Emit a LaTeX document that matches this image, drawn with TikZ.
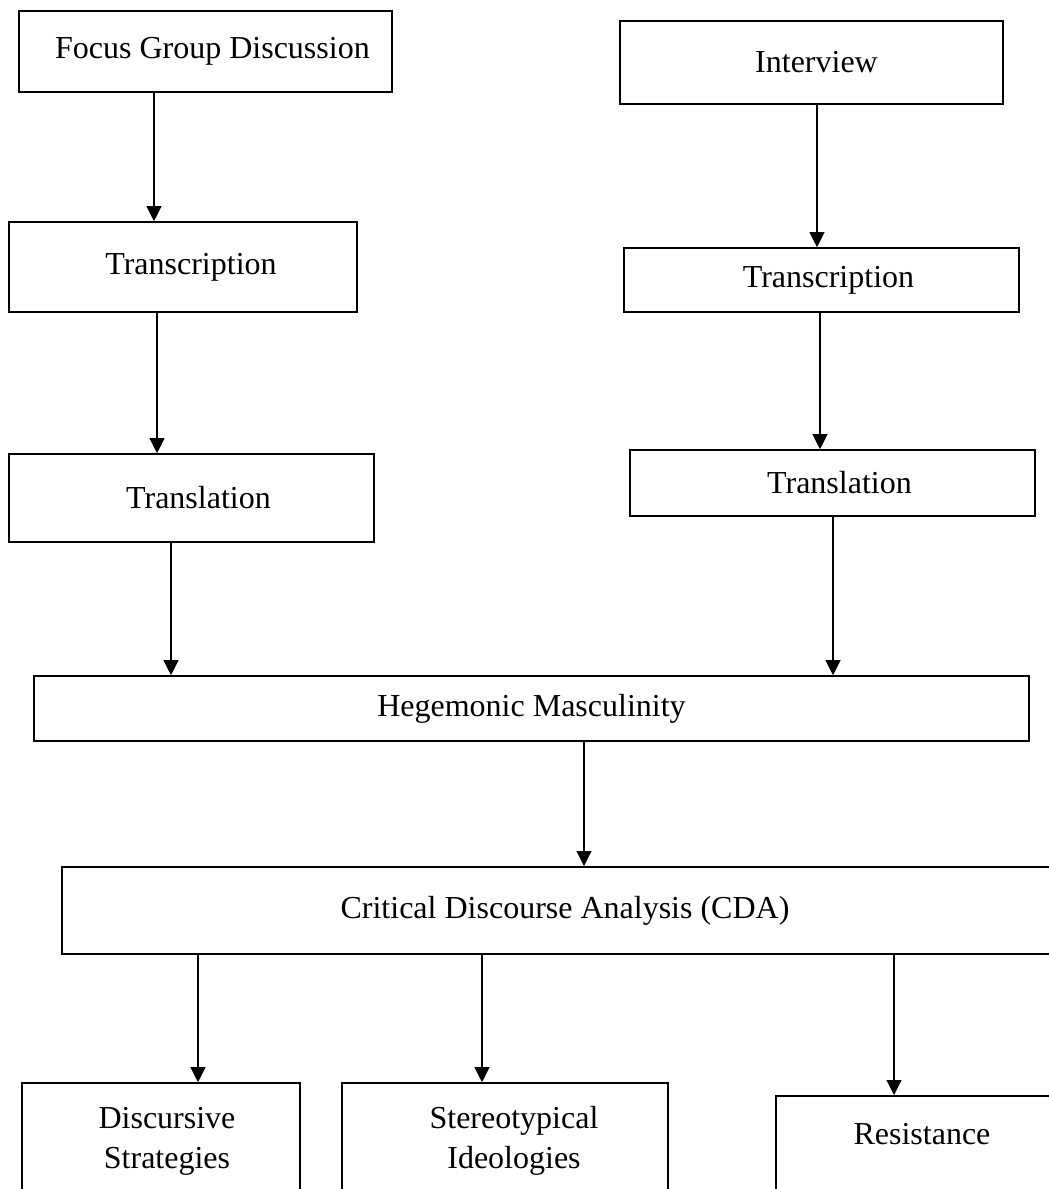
\documentclass[tikz,border=0pt]{standalone}
\usepackage{fontspec}
\setmainfont{Liberation Serif}
\usetikzlibrary{arrows.meta}

\begin{document}
\begin{tikzpicture}[x=1pt,y=-1pt,
    box/.style={draw, line width=1.6pt, inner sep=0pt, align=center,
        font=\fontsize{32}{40}\selectfont},
    arr/.style={line width=1.1pt, -{Triangle[length=15pt,width=15pt]}}]
            \useasboundingbox (0,0) rectangle (1049,1189);
            \clip (0,0) rectangle (1049,1189);
            % first column
            \node[box, minimum width=373pt, minimum height=81pt] (fgd) at (205.5,51.5) {\hspace*{14pt}Focus Group Discussion};
            \node[box, minimum width=348pt, minimum height=90pt] (trsl) at (183,267) {\hspace*{16pt}Transcription};
            \node[box, minimum width=365pt, minimum height=88pt] (trll) at (191.5,498) {\hspace*{14pt}Translation};
            % second column
            \node[box, minimum width=383pt, minimum height=83pt] (intv) at (811.5,62.5) {\hspace*{10pt}Interview};
            \node[box, minimum width=395pt, minimum height=64pt] (trsr) at (821.5,280) {\hspace*{14pt}Transcription};
            \node[box, minimum width=405pt, minimum height=66pt] (trlr) at (832.5,483) {\hspace*{14pt}Translation};
            % analysis
            \node[box, minimum width=995pt, minimum height=65pt] (heg) at (531.5,708.5) {Hegemonic Masculinity};
            \node[box, line width=2pt, minimum width=1006pt, minimum height=87pt] (cda) at (565,910.5) {Critical Discourse Analysis (CDA)};
            \node[box, minimum width=278pt, minimum height=116pt] (disc) at (161,1141) {\hspace*{12pt}Discursive\\\hspace*{12pt}Strategies};
            \node[box, minimum width=326pt, minimum height=116pt] (ster) at (505,1141) {\hspace*{18pt}Stereotypical\\\hspace*{18pt}Ideologies};
            \node[box, minimum width=292pt, minimum height=160pt, anchor=north] (res) at (922,1095) {};
            \node[font=\fontsize{32}{40}\selectfont] (restxt) at (922,1134) {Resistance};
            % arrows
            \draw[arr] (fgd.south -| 154,0) -- (trsl.north -| 154,0);
            \draw[arr] (trsl.south -| 157,0) -- (trll.north -| 157,0);
            \draw[arr] (trll.south -| 171,0) -- (heg.north -| 171,0);
            \draw[arr] (intv.south -| 817,0) -- (trsr.north -| 817,0);
            \draw[arr] (trsr.south -| 820,0) -- (trlr.north -| 820,0);
            \draw[arr] (trlr.south -| 833,0) -- (heg.north -| 833,0);
            \draw[arr] (heg.south -| 584,0) -- (cda.north -| 584,0);
            \draw[arr] (cda.south -| 198,0) -- (disc.north -| 198,0);
            \draw[arr] (cda.south -| 482,0) -- (ster.north -| 482,0);
            \draw[arr] (cda.south -| 894,0) -- (res.north -| 894,0);
        \end{tikzpicture}
\end{document}
